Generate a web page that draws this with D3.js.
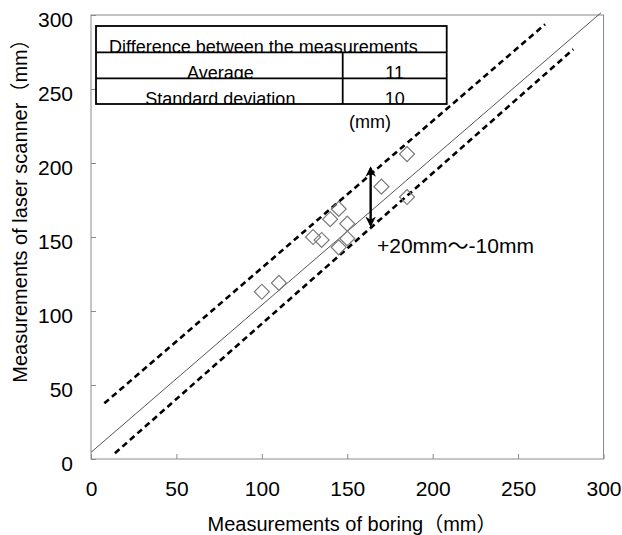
<!DOCTYPE html>
<html>
<head>
<meta charset="utf-8">
<script src="https://cdn.jsdelivr.net/npm/d3@7"></script>
<style>
  body { margin: 0; background: #fff; }
  text { font-family: "Liberation Sans", Arial, "Noto Sans CJK JP", sans-serif; fill: #000; }
</style>
</head>
<body>
<script>
// data (mm)
var boring  = [185, 170, 185, 145, 140, 150, 130, 135, 150, 145, 100, 110];
var scanner = [206, 184, 177, 169, 162, 159, 150, 148, 149, 143, 113, 119];
var ticks = [0, 50, 100, 150, 200, 250, 300];
var solidLine = [[0, 4.5], [298.5, 301.5]];
var upperLine = [[7.8, 37.6], [265.8, 293.7]];
var lowerLine = [[14, 3.9], [282.3, 276.8]];
var arrowRange = [163.7, 158.1, 196.4]; // x, y bottom, y top
var tableRows = [['Average', '11'], ['Standard deviation', '10']];
var tableTitle = 'Difference between the measurements';

function plot_it() {
    var svg_width = 622, svg_height = 535;
    var left = 91, right = 603.5, top = 15, bottom = 459;

    var x = d3.scaleLinear().domain([0, 300]).range([left, right]);
    var y = d3.scaleLinear().domain([0, 300]).range([bottom, top]);

    var svg = d3.select('body').append('svg').attr('width', svg_width).attr('height', svg_height);

    // plot frame
    svg.append('rect').attr('x', left).attr('y', top).attr('width', right - left).attr('height', bottom - top)
        .attr('fill', 'none').attr('stroke', '#8a8a8a').attr('stroke-width', 1);

    // axes with inner ticks
    var xAxis = svg.append('g').attr('transform', 'translate(0,' + bottom + ')')
        .call(d3.axisBottom(x).tickValues(ticks).tickSize(-5).tickPadding(22).tickFormat(d3.format('d')));
    var yAxis = svg.append('g').attr('transform', 'translate(' + left + ',0)')
        .call(d3.axisLeft(y).tickValues(ticks).tickSize(-5).tickPadding(18).tickFormat(d3.format('d')));
    [xAxis, yAxis].forEach(a => {
        a.select('.domain').remove();
        a.selectAll('.tick line').attr('stroke', '#8a8a8a');
        a.selectAll('.tick text').attr('font-size', 21).attr('font-family', null);
    });
    yAxis.selectAll('.tick text').attr('dy', '0.55em');
    xAxis.selectAll('.tick text').attr('dy', '0.71em');

    // axis titles
    svg.append('text').attr('x', 352).attr('y', 531).attr('text-anchor', 'middle').attr('font-size', 20)
        .text('Measurements of boring（mm）');
    svg.append('text').attr('transform', 'translate(27,206) rotate(-90)').attr('text-anchor', 'middle').attr('font-size', 20)
        .text('Measurements of laser scanner（mm）');

    // reference lines
    var line = d3.line().x(d => x(d[0])).y(d => y(d[1]));
    svg.append('path').datum(solidLine).attr('d', line).attr('fill', 'none').attr('stroke', '#555').attr('stroke-width', 1);
    svg.selectAll('dashed').data([upperLine, lowerLine]).enter().append('path')
        .attr('d', line).attr('fill', 'none').attr('stroke', '#000')
        .attr('stroke-width', 2.6).attr('stroke-dasharray', '6,4');

    // points (open diamonds)
    var sym = d3.symbol().type(d3.symbolSquare).size(112);
    svg.selectAll('pts').data(boring.map((b, i) => [b, scanner[i]])).enter().append('path')
        .attr('d', sym)
        .attr('transform', d => 'translate(' + x(d[0]) + ',' + y(d[1]) + ') rotate(45)')
        .attr('fill', 'none').attr('stroke', '#7a7a7a').attr('stroke-width', 1.2);

    // double arrow
    var defs = svg.append('defs');
    ['start', 'end'].forEach(k => {
        defs.append('marker').attr('id', 'arr-' + k)
            .attr('viewBox', '0 0 10 10').attr('refX', 8).attr('refY', 5)
            .attr('markerWidth', 4.4).attr('markerHeight', 4.4).attr('markerUnits', 'strokeWidth')
            .attr('orient', k == 'start' ? 'auto-start-reverse' : 'auto')
            .append('path').attr('d', 'M0,0 L10,5 L0,10 L3,5 Z').attr('fill', '#000');
    });
    svg.append('line')
        .attr('x1', x(arrowRange[0])).attr('x2', x(arrowRange[0]))
        .attr('y1', y(arrowRange[1])).attr('y2', y(arrowRange[2]))
        .attr('stroke', '#000').attr('stroke-width', 2.4)
        .attr('marker-start', 'url(#arr-start)').attr('marker-end', 'url(#arr-end)');
    svg.append('text').attr('x', 377).attr('y', 253).attr('font-size', 21).text('+20mm～-10mm');

    // summary table
    var tx0 = 96, tx1 = 342.7, tx2 = 446.7;
    var rowY = [26, 52.3, 78.3, 104];
    var table = svg.append('g');
    table.append('rect').attr('x', tx0).attr('y', rowY[0]).attr('width', tx2 - tx0).attr('height', rowY[3] - rowY[0]).attr('fill', '#fff');

    var cells = [{x0: tx0, x1: tx2, r: 0, t: tableTitle, anchor: 'start', tx: tx0 + 13}];
    tableRows.forEach((row, i) => {
        cells.push({x0: tx0, x1: tx1, r: i + 1, t: row[0], anchor: 'middle', tx: (tx0 + tx1) / 2 + 1});
        cells.push({x0: tx1, x1: tx2, r: i + 1, t: row[1], anchor: 'middle', tx: (tx1 + tx2) / 2});
    });
    cells.forEach((c, i) => {
        defs.append('clipPath').attr('id', 'cell' + i).append('rect')
            .attr('x', c.x0).attr('y', rowY[c.r]).attr('width', c.x1 - c.x0).attr('height', rowY[c.r + 1] - rowY[c.r]);
        table.append('text').attr('clip-path', 'url(#cell' + i + ')')
            .attr('x', c.tx).attr('y', rowY[c.r + 1] + 1).attr('text-anchor', c.anchor)
            .attr('font-size', 18).text(c.t);
    });

    table.append('rect').attr('x', tx0).attr('y', rowY[0]).attr('width', tx2 - tx0).attr('height', rowY[3] - rowY[0])
        .attr('fill', 'none').attr('stroke', '#000').attr('stroke-width', 1.8);
    table.selectAll('hl').data([rowY[1], rowY[2]]).enter().append('line')
        .attr('x1', tx0).attr('x2', tx2).attr('y1', d => d).attr('y2', d => d)
        .attr('stroke', '#000').attr('stroke-width', 1.8);
    table.append('line').attr('x1', tx1).attr('x2', tx1).attr('y1', rowY[1]).attr('y2', rowY[3])
        .attr('stroke', '#000').attr('stroke-width', 1.8);

    svg.append('text').attr('x', 370).attr('y', 128).attr('text-anchor', 'middle').attr('font-size', 18).text('(mm)');
}
plot_it();
</script>
</body>
</html>
